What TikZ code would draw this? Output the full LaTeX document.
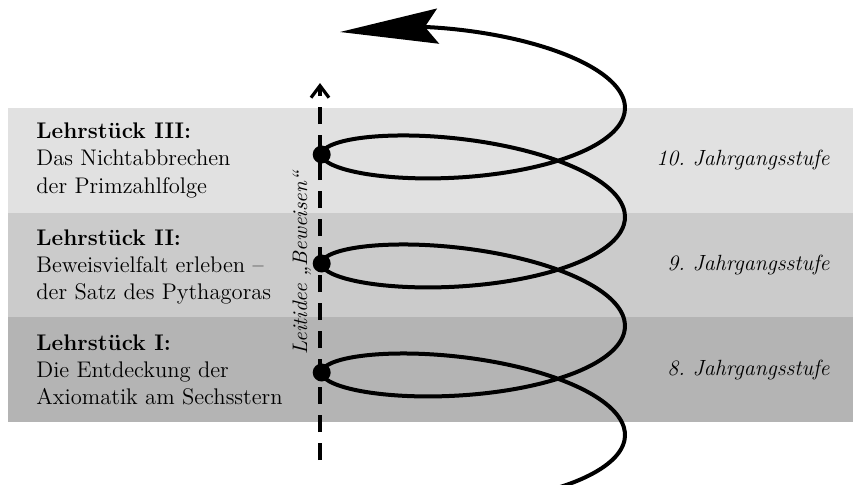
\documentclass[tikz,border=0pt]{standalone}
\usepackage{fontspec}
\usetikzlibrary{positioning, arrows.meta}

\definecolor{bandhell}{HTML}{E1E1E1}
\definecolor{bandmittel}{HTML}{CBCBCB}
\definecolor{banddunkel}{HTML}{B4B4B4}

\tikzset{
  band/.style={rectangle, inner sep=0pt, outer sep=0pt, minimum width=422.5pt, minimum height=52.35pt},
  lehr/.style={inner sep=0pt, align=left, font=\fontsize{11.3}{13.6}\selectfont},
  stufe/.style={inner sep=0pt, font=\fontsize{11}{13.5}\selectfont\itshape},
  punkt/.style={circle, fill=black, inner sep=0pt, minimum size=9pt},
  spirale/.style={line width=2pt, line join=round, -{Stealth[length=49pt, width=17.5pt, inset=6.5pt]}},
  leitlinie/.style={line width=2pt, dash pattern=on 8.5pt off 5.5pt, -{Straight Barb[length=6pt, width=9pt, line width=1.6pt]}}
}

\begin{document}
\begin{tikzpicture}[x=0.5pt, y=0.5pt]
        \useasboundingbox (0,0) rectangle (853,484);

        % Bänder
        \node[band, fill=bandhell] (b3) at (430.5,323.65) {};
        \node[band, fill=bandmittel, below=0pt of b3] (b2) {};
        \node[band, fill=banddunkel, below=0pt of b2] (b1) {};

        % Lehrstücke
        \node[lehr, anchor=west] (t3) at ([xshift=14pt]b3.west) {\textbf{Lehrstück III:}\\Das Nichtabbrechen\\der Primzahlfolge};
        \node[lehr, anchor=west] (t2) at ([xshift=14pt, yshift=-1pt]b2.west) {\textbf{Lehrstück II:}\\Beweisvielfalt erleben –\\der Satz des Pythagoras};
        \node[lehr, anchor=west] (t1) at ([xshift=14pt]b1.west) {\textbf{Lehrstück I:}\\Die Entdeckung der\\Axiomatik am Sechsstern};

        % Jahrgangsstufen
        \node[stufe, anchor=east] (s3) at ([xshift=-11.5pt]b3.east) {10.\ Jahrgangsstufe};
        \node[stufe, anchor=east] (s2) at ([xshift=-11.5pt]b2.east) {9.\ Jahrgangsstufe};
        \node[stufe, anchor=east] (s1) at ([xshift=-11.5pt]b1.east) {8.\ Jahrgangsstufe};

        % Leitidee
        \coordinate (unten) at (320,24);
        \coordinate (oben) at (320,401);
        \draw[leitlinie] (unten) -- (oben);
        \node[rotate=90, font=\fontsize{10.5}{12}\selectfont\itshape] (leit) at (302,221) {Leitidee „Beweisen“};

        % Spirale
        \coordinate (spitze) at (340,452);
        \draw[spirale] plot[domain=-0.97:20.75, samples=320, smooth, variable=\t]
            ({473.35+151.65*cos(\t r)}, {53+17.35*\t+45.2*sin(\t r)-4*cos(\t r)}) -- (spitze);

        % Punkte
        \node[punkt] (p1) at (321.7,111.5) {};
        \node[punkt] (p2) at (321.7,220.5) {};
        \node[punkt] (p3) at (321.7,329.5) {};
    \end{tikzpicture}
\end{document}
